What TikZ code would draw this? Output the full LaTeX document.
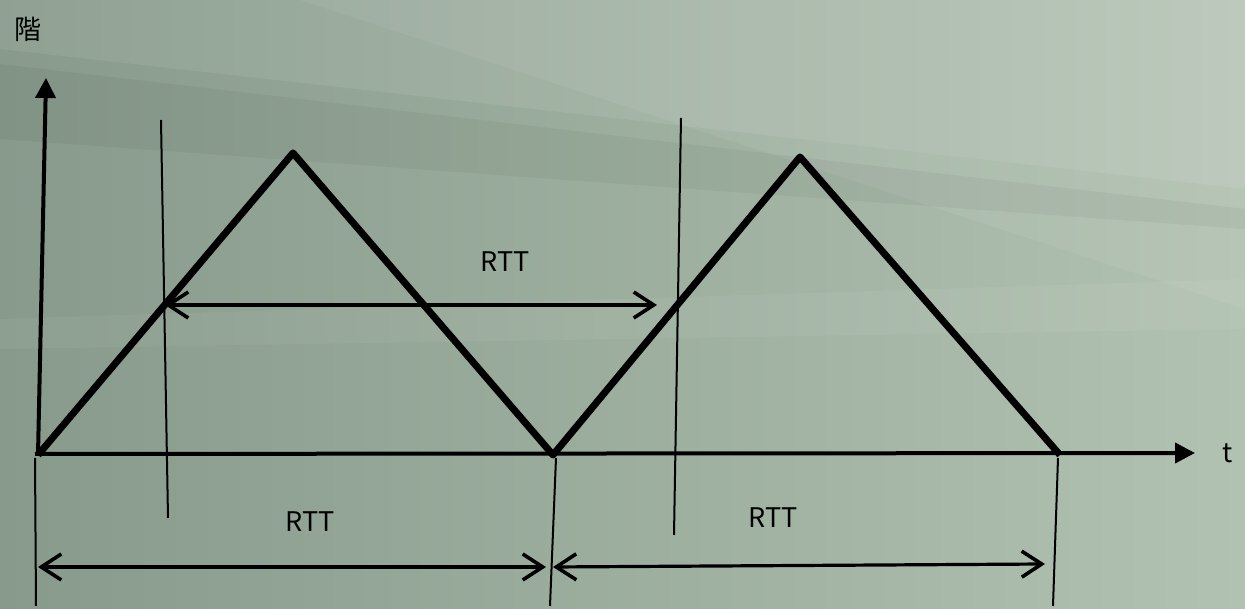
\documentclass[tikz,border=0pt]{standalone}
\usepackage{fontspec}
\newfontfamily\cjk{Noto Sans CJK JP}
\usetikzlibrary{arrows.meta,positioning}
\definecolor{bgdark}{HTML}{879A8B}
\definecolor{bglight}{HTML}{B2C2B2}

\begin{document}
\begin{tikzpicture}[x=1pt,y=1pt,
    wave/.style={line width=7pt,line join=round},
    axis/.style={line width=4pt,-{Triangle[length=20pt,width=20pt]}},
    markline/.style={line width=2pt},
    span/.style={line width=3.2pt,{Straight Barb[length=20pt,width=26pt,line width=3.6pt]}-{Straight Barb[length=20pt,width=26pt,line width=3.6pt]}},
    lbl/.style={font=\cjk\fontsize{27}{30}\selectfont}]
 \useasboundingbox (0,0) rectangle (1245,609);
 % background
 \shade[left color=bgdark,right color=bglight] (0,0) rectangle (1245,609);
 \fill[white,opacity=0.08] (0,609) -- (1245,609) -- (1245,420) -- (0,560) -- cycle;
 \fill[white,opacity=0.06] (300,609) -- (1245,609) -- (1245,300) -- cycle;
 \fill[white,opacity=0.05] (0,290) -- (1245,330) -- (1245,280) -- (0,260) -- cycle;
 \fill[black,opacity=0.04] (0,545) -- (1245,400) -- (1245,380) -- (0,470) -- cycle;
 % points
 \coordinate (O) at (38,154);
 \coordinate (yend) at (46,531);
 \coordinate (xstart) at (35,155);
 \coordinate (xend) at (1195,156);
 \coordinate (P1) at (293,456);
 \coordinate (M) at (553,154);
 \coordinate (P2) at (800,452);
 \coordinate (E) at (1060,154);
 % axes
 \draw[axis] (O) -- (yend);
 \draw[axis] (xstart) -- (xend);
 \node[lbl] (ylab) at (28,580) {階};
 \node[lbl,right=24pt of xend] (xlab) {t};
 % window
 \draw[wave] (O) -- (P1) -- (M) -- (P2) -- (E);
 % marker lines
 \coordinate (v1t) at (161,489); \coordinate (v1b) at (168,91);
 \coordinate (v2t) at (681,491); \coordinate (v2b) at (674,74);
 \coordinate (b0t) at (35,151);  \coordinate (b0b) at (36,3);
 \coordinate (b1t) at (556,151); \coordinate (b1b) at (550,3);
 \coordinate (b2t) at (1058,151); \coordinate (b2b) at (1053,3);
 \foreach \X in {v1,v2,b0,b1,b2} {\draw[markline] (\X t) -- (\X b);}
 % RTT spans
 \coordinate (s1a) at (165,304); \coordinate (s1b) at (657,304);
 \coordinate (s2a) at (38,42);   \coordinate (s2b) at (546,42);
 \coordinate (s3a) at (553,42);  \coordinate (s3b) at (1045,45);
 \draw[span] (s1a) -- (s1b);
 \draw[span] (s2a) -- (s2b);
 \draw[span] (s3a) -- (s3b);
 \node[lbl] (rtt1) at (505,347) {RTT};
 \node[lbl] (rtt2) at (310,87) {RTT};
 \node[lbl] (rtt3) at (773,91) {RTT};
\end{tikzpicture}
\end{document}
